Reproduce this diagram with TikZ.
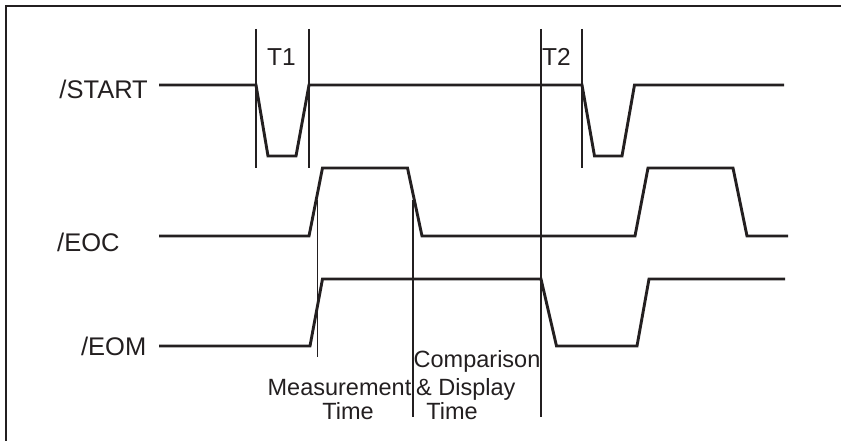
\documentclass[tikz,border=0pt]{standalone}
\usepackage{fontspec}
\setmainfont{Liberation Sans}
\definecolor{ink}{HTML}{231F20}
\begin{document}
\begin{tikzpicture}[x=1pt,y=-1pt,
  sig/.style={line width=2.9pt,line join=miter,draw=ink},
  guide/.style={line width=1.1pt,draw=ink},
  frameline/.style={line width=2.8pt,draw=ink},
  lab/.style={inner sep=0pt,font=\fontsize{25.5}{28}\selectfont,text=ink},
  tlab/.style={inner sep=0pt,font=\fontsize{24.5}{27}\selectfont,text=ink},
  note/.style={inner sep=0pt,font=\fontsize{23.5}{26}\selectfont,text=ink}]
\useasboundingbox (0,0) rectangle (841,441);
% frame (only top and left edges visible)
\draw[frameline] (6,441) -- (6,6) -- (841,6);

% signal labels
\node[lab,anchor=base east] (start) at (148,98.3) {/START};
\node[lab,anchor=base west] (eoc) at (57,251.5) {/EOC};
\node[lab,anchor=base east] (eom) at (146.5,355.5) {/EOM};
\node[tlab,anchor=base] (t1) at (281.5,66) {T1};
\node[tlab,anchor=base west] (t2) at (542,66) {T2};

% bottom notes
\node[note,anchor=base east] (meas) at (411.5,395) {Measurement};
\node[note,anchor=base] (time1) at (348,419) {Time};
\node[note,anchor=base west] (comp) at (413.5,367) {Comparison};
\node[note,anchor=base west] (disp) at (416,395) {\& Display};
\node[note,anchor=base] (time2) at (452,419) {Time};

% guide lines
\draw[guide] (256,29) -- (256,168);
\draw[guide] (309,29) -- (309,168);
\draw[guide] (541,29) -- (541,417);
\draw[guide] (582,29) -- (582,168);
\draw[guide] (317.5,200) -- (317.5,357);
\draw[guide] (413,200) -- (413,417);

% waveforms
\draw[sig] (159,85) -- (256,85) -- (268,156) -- (296,156) -- (309,85)
  -- (582,85) -- (594.5,156) -- (622,156) -- (634.5,85) -- (784,85);
\draw[sig] (159,236) -- (309,236) -- (322.5,168) -- (407.5,168) -- (422,236)
  -- (635,236) -- (648,168) -- (733,168) -- (747,236) -- (788,236);
\draw[sig] (159,346) -- (310,346) -- (322.5,279) -- (541,279) -- (556.5,346)
  -- (637,346) -- (649,279) -- (785,279);
\end{tikzpicture}
\end{document}
